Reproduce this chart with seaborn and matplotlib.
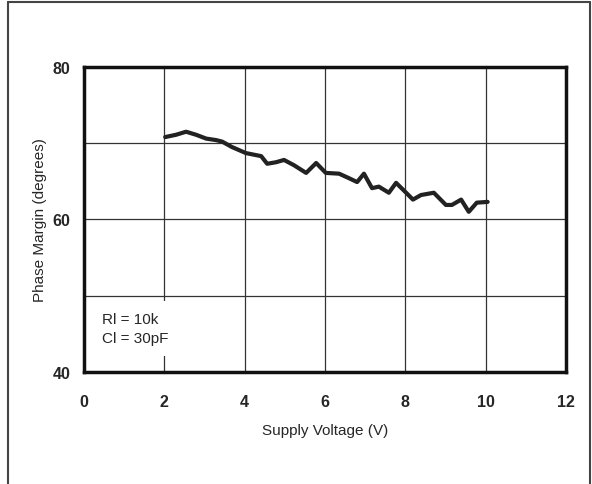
import numpy as np
import pandas as pd
import matplotlib
matplotlib.use("Agg")
import matplotlib.pyplot as plt
import seaborn as sns
from matplotlib.lines import Line2D

# -------- DATA --------
supply_v = [2.02, 2.29, 2.54, 2.79, 3.04, 3.29, 3.44, 3.68, 4.03, 4.41,
            4.56, 4.78, 4.98, 5.23, 5.53, 5.78, 6.02, 6.35, 6.60, 6.80,
            6.97, 7.17, 7.34, 7.59, 7.77, 8.02, 8.19, 8.39, 8.71, 9.01,
            9.16, 9.39, 9.58, 9.78, 10.05]
phase_margin = [70.8, 71.1, 71.5, 71.1, 70.6, 70.4, 70.2, 69.5, 68.7, 68.3,
                67.3, 67.5, 67.8, 67.1, 66.1, 67.4, 66.1, 66.0, 65.4, 64.9,
                66.0, 64.1, 64.3, 63.5, 64.8, 63.5, 62.6, 63.2, 63.5, 61.9,
                61.9, 62.6, 61.0, 62.2, 62.3]
x_ticks = [0, 2, 4, 6, 8, 10, 12]
y_ticks = [40, 60, 80]
y_grid = [40, 50, 60, 70, 80]
note_lines = ["Rl = 10k", "Cl = 30pF"]

df = pd.DataFrame({"Supply Voltage (V)": supply_v, "Phase Margin (degrees)": phase_margin})

# -------- SETTINGS --------
sns.set_style("white")
plt.rcParams["font.family"] = ["Liberation Sans", "DejaVu Sans"]

fig = plt.figure(figsize=(5.92, 4.85), dpi=100)
ax = fig.add_axes([0.142, 0.231, 0.814, 0.629])

sns.lineplot(data=df, x="Supply Voltage (V)", y="Phase Margin (degrees)",
             ax=ax, color="#222222", linewidth=3.0, sort=False)

ax.set_xlim(0, 12)
ax.set_ylim(40, 80)
ax.set_xticks(x_ticks)
ax.set_yticks(y_grid)
ax.set_yticklabels([str(v) if v in y_ticks else "" for v in y_grid])
ax.tick_params(length=0, labelsize=11.5)
ax.tick_params(axis="x", pad=16)
ax.tick_params(axis="y", pad=10)
for lab in ax.get_xticklabels() + ax.get_yticklabels():
    lab.set_fontweight("bold")
ax.grid(True, color="#333333", linewidth=0.9)
ax.set_axisbelow(True)

for s in ax.spines.values():
    s.set_visible(True)
    s.set_color("#111111")
    s.set_linewidth(2.5)

ax.set_xlabel("Supply Voltage (V)", fontsize=11, labelpad=10)
ax.set_ylabel("Phase Margin (degrees)", fontsize=11, labelpad=4)

# note box (white patch hides grid under the text)
ax.text(0.45, 45.7, "\n".join(note_lines), fontsize=11, va="center", ha="left",
        linespacing=1.4,
        bbox=dict(facecolor="white", edgecolor="none", pad=8), zorder=3)

# outer frame (bottom is cut off)
for xs, ys in [([8 / 592, 8 / 592], [0, 1 - 3 / 485]),
               ([8 / 592, 590 / 592], [1 - 3 / 485, 1 - 3 / 485]),
               ([590 / 592, 590 / 592], [0, 1 - 3 / 485])]:
    fig.add_artist(Line2D(xs, ys, color="#444444", linewidth=1.5))

fig.savefig("out.png", dpi=100)
